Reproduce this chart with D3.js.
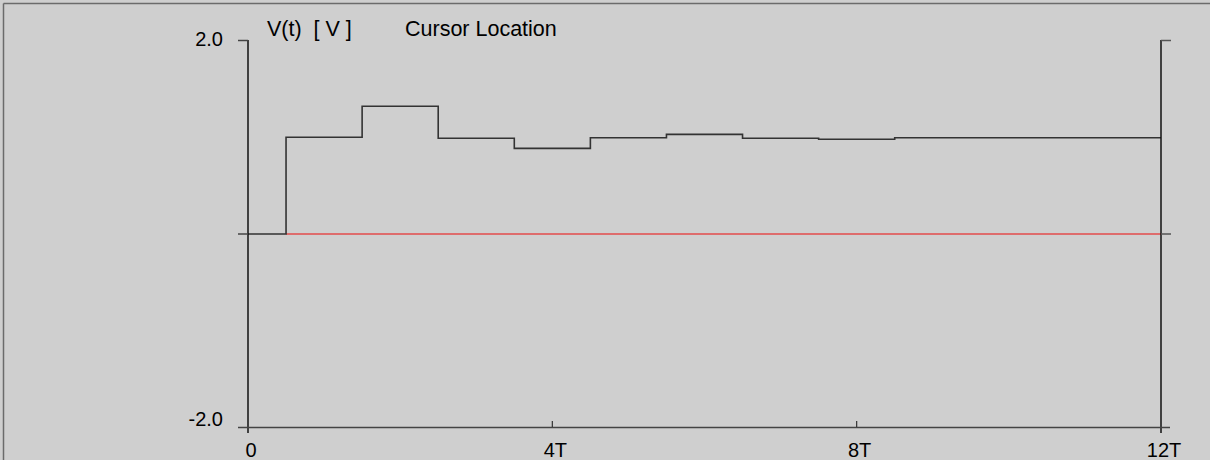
<!DOCTYPE html>
<html>
<head>
<meta charset="utf-8">
<script src="https://cdn.jsdelivr.net/npm/d3@7/dist/d3.min.js"></script>
<style>
  html, body { margin: 0; padding: 0; background: #cfcfcf; overflow: hidden; }
  svg { display: block; }
  text { font-family: "Liberation Sans", Arial, sans-serif; fill: #000; white-space: pre; }
</style>
</head>
<body>
<svg id="chart" width="1210" height="460"></svg>
<script>
// ---- data ----
const stepTimes  = [0, 0.5, 1.5, 2.5, 3.5, 4.5, 5.5, 6.5, 7.5, 8.5, 12];
const stepValues = [0, 1.0, 1.32, 0.99, 0.885, 0.995, 1.03, 0.99, 0.98, 0.995];
const cursorStart = 0.5;
const cursorEnd = 12;
const cursorValue = 0;
const xTickValues = [0, 4, 8, 12];
const xTickLabels = ["0", "4T", "8T", "12T"];
const yTickValues = [2, 0, -2];
const yTickLabels = ["2.0", "", "-2.0"];
const yTitle = "V(t)  [ V ]";
const cursorTitle = "Cursor Location";

// ---- drawing ----
const svg = d3.select("#chart");
const W = 1210, H = 460;
const x = d3.scaleLinear().domain([0, 12]).range([248, 1161]);
const y = d3.scaleLinear().domain([-2, 2]).range([427, 40]);

svg.append("rect").attr("width", W).attr("height", H).attr("fill", "#cfcfcf");

// frame (top and left border)
svg.append("line").attr("x1", 3.5).attr("x2", W).attr("y1", 3.5).attr("y2", 3.5)
  .attr("stroke", "#6b6b6b").attr("stroke-width", 1.5);
svg.append("line").attr("x1", 3.5).attr("x2", 3.5).attr("y1", 3.5).attr("y2", H)
  .attr("stroke", "#6b6b6b").attr("stroke-width", 1.5);

const g = svg.append("g");

// cursor (red) line
g.append("line")
  .attr("x1", x(cursorStart)).attr("x2", x(cursorEnd))
  .attr("y1", y(cursorValue) + 0.5).attr("y2", y(cursorValue) + 0.5)
  .attr("stroke", "#e34b4b").attr("stroke-width", 1.5);

// step response
const pts = stepValues.map((v, i) => [stepTimes[i], v]);
pts.push([stepTimes[stepTimes.length - 1], stepValues[stepValues.length - 1]]);
const line = d3.line().x(d => x(d[0])).y(d => y(d[1])).curve(d3.curveStepAfter);
g.append("path").attr("d", line(pts))
  .attr("fill", "none").attr("stroke", "#333").attr("stroke-width", 1.6)
  .attr("transform", "translate(0,0.5)");

// axes
const axisColor = "#111";
[x.domain()[0], x.domain()[1]].forEach(t => {
  g.append("line").attr("x1", x(t)).attr("x2", x(t))
    .attr("y1", y(2)).attr("y2", y(-2) + 6)
    .attr("stroke", axisColor).attr("stroke-width", 1.5);
});
g.append("line").attr("x1", x(0) - 10).attr("x2", x(12) + 9)
  .attr("y1", y(-2) + 0.5).attr("y2", y(-2) + 0.5)
  .attr("stroke", "#444").attr("stroke-width", 1.5);

// y ticks (left and right)
yTickValues.filter(v => v !== -2).forEach(v => {
  g.append("line").attr("x1", x(0) - 10).attr("x2", x(0))
    .attr("y1", y(v) + 0.5).attr("y2", y(v) + 0.5)
    .attr("stroke", "#444").attr("stroke-width", 1.5);
  g.append("line").attr("x1", x(12)).attr("x2", x(12) + 10)
    .attr("y1", y(v) + 0.5).attr("y2", y(v) + 0.5)
    .attr("stroke", "#555").attr("stroke-width", 1.5);
});

// y tick labels
yTickValues.forEach((v, i) => {
  if (!yTickLabels[i]) return;
  g.append("text")
    .attr("x", x(0) - 25).attr("y", y(v) + (v > 0 ? 6 : -1))
    .attr("text-anchor", "end").attr("font-size", 20)
    .text(yTickLabels[i]);
});

// x ticks & labels
xTickValues.forEach((t, i) => {
  if (t !== 0 && t !== 12) {
    g.append("line").attr("x1", x(t)).attr("x2", x(t))
      .attr("y1", y(-2) - 6).attr("y2", y(-2))
      .attr("stroke", "#333").attr("stroke-width", 1.2);
  }
  g.append("text")
    .attr("x", x(t) + 3).attr("y", y(-2) + 30)
    .attr("text-anchor", "middle").attr("font-size", 20)
    .text(xTickLabels[i]);
});

// titles
g.append("text").attr("x", 267).attr("y", 36).attr("font-size", 21.5).text(yTitle);
g.append("text").attr("x", 405).attr("y", 36).attr("font-size", 21.5).text(cursorTitle);
</script>
</body>
</html>
